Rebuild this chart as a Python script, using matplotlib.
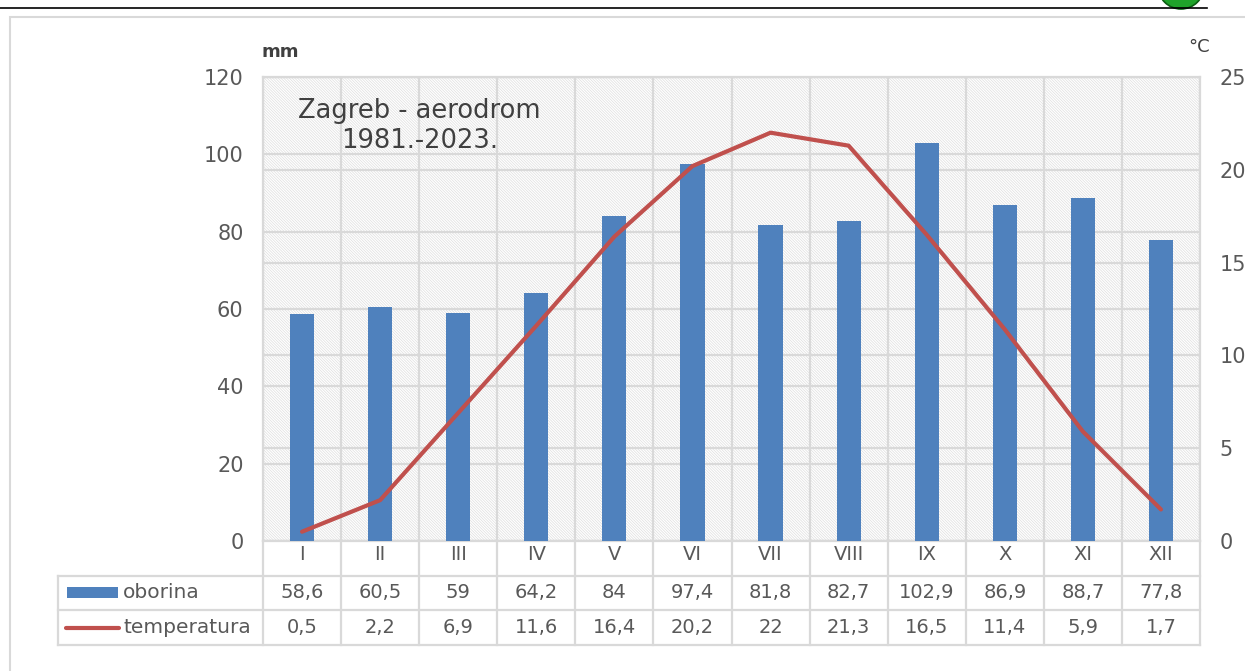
import numpy as np
import matplotlib.pyplot as plt
from matplotlib.patches import Rectangle, Ellipse
from matplotlib.lines import Line2D

# podaci
mjeseci = ['I', 'II', 'III', 'IV', 'V', 'VI', 'VII', 'VIII', 'IX', 'X', 'XI', 'XII']
oborina = [58.6, 60.5, 59, 64.2, 84, 97.4, 81.8, 82.7, 102.9, 86.9, 88.7, 77.8]
temperatura = [0.5, 2.2, 6.9, 11.6, 16.4, 20.2, 22, 21.3, 16.5, 11.4, 5.9, 1.7]
mm_ticks = [0, 20, 40, 60, 80, 100, 120]
c_ticks = [0, 5, 10, 15, 20, 25]

plt.rcParams['font.family'] = ['DejaVu Sans']
plt.rcParams['hatch.linewidth'] = 0.5

TXT = '#595959'
GRID = '#d9d9d9'
BLUE = '#4f81bd'
RED = '#c0504d'

W, H = 1245, 671
fig = plt.figure(figsize=(W / 100, H / 100), dpi=100)

def fx(px):
    return px / W

def fy(py):
    return 1 - py / H

# okvir i gornja linija
fig.add_artist(Line2D([0, fx(1207)], [fy(8), fy(8)], color='black', lw=1.2))
fig.add_artist(Rectangle((fx(10), fy(690)), fx(1300), 673 / H, transform=fig.transFigure,
                         fill=False, edgecolor=GRID, lw=1.5))
fig.add_artist(Ellipse((fx(1181), fy(-14)), fx(46), 46 / H, transform=fig.transFigure,
                       facecolor='#1fa32a', edgecolor='#0b5d12', lw=1.2))

x = np.arange(len(mjeseci))
rect = [fx(263), fy(541), fx(1200 - 263), (541 - 77) / H]

# pozadina s rešetkom za °C
axg = fig.add_axes(rect)
axg.set_xlim(-0.5, 11.5)
axg.set_ylim(0, 25)
axg.add_patch(Rectangle((0, 0), 1, 1, transform=axg.transAxes, facecolor='white',
                        edgecolor='#dedede', hatch='\\' * 12, lw=0, zorder=0))
axg.set_yticks(c_ticks)
axg.set_xticks(np.arange(-0.5, 12, 1))
axg.grid(True, color=GRID, lw=1.6, zorder=1)
axg.tick_params(length=0, labelleft=False, labelbottom=False)
for s in axg.spines.values():
    s.set_color(GRID)
    s.set_linewidth(1.6)

# stupci - oborina
ax = fig.add_axes(rect, sharex=axg)
ax.patch.set_visible(False)
ax.bar(x, oborina, width=0.31, color=BLUE, zorder=3)
ax.set_ylim(0, 120)
ax.set_yticks(mm_ticks)
ax.yaxis.grid(True, color=GRID, lw=1.6, zorder=1)
ax.set_axisbelow(True)
ax.tick_params(axis='y', length=0, pad=14, labelsize=15, labelcolor=TXT)
ax.tick_params(axis='x', length=0, labelbottom=False)
for s in ax.spines.values():
    s.set_visible(False)
ax.text(-0.002, 1.053, 'mm', transform=ax.transAxes, ha='left', va='center',
        fontsize=13, color='#404040', fontweight='bold')
ax.text(1.5, 107.3, 'Zagreb - aerodrom\n1981.-2023.', ha='center', va='center',
        fontsize=18.5, color='#404040', linespacing=1.2)

# linija - temperatura
ax2 = ax.twinx()
ax2.plot(x, temperatura, color=RED, lw=3, solid_capstyle='round', zorder=4)
ax2.set_ylim(0, 25)
ax2.set_yticks(c_ticks)
ax2.tick_params(axis='y', length=0, pad=14, labelsize=15, labelcolor=TXT)
for s in ax2.spines.values():
    s.set_visible(False)
ax2.text(0.9995, 1.065, '°C', transform=ax2.transAxes, ha='center', va='center',
         fontsize=13, color='#404040')

# tablica s podacima
axt = fig.add_axes([fx(58), fy(645), fx(1200 - 58), (645 - 541) / H])
x0 = -0.5 - (263 - 58) / (937 / 12)
axt.set_xlim(x0, 11.5)
axt.set_ylim(0, 3)
axt.axis('off')
for yy in [0, 1, 2]:
    axt.plot([x0, 11.5], [yy, yy], color=GRID, lw=1.6, clip_on=False)
for xx in np.arange(-0.5, 12, 1):
    axt.plot([xx, xx], [0, 3], color=GRID, lw=1.6, clip_on=False)
axt.plot([x0, x0], [0, 2], color=GRID, lw=1.6, clip_on=False)

for i, m in enumerate(mjeseci):
    axt.text(i, 2.6, m, ha='center', va='center', fontsize=14, color=TXT)
    axt.text(i, 1.5, f'{oborina[i]:g}'.replace('.', ','), ha='center', va='center',
             fontsize=14, color=TXT)
    axt.text(i, 0.5, f'{temperatura[i]:g}'.replace('.', ','), ha='center', va='center',
             fontsize=14, color=TXT)

px_u = 937 / 12
def tx(px):
    return x0 + (px - 58) / px_u

axt.add_patch(Rectangle((tx(67), 1.36), tx(118) - tx(67), 0.3, facecolor=BLUE, lw=0))
axt.plot([tx(66), tx(119)], [0.5, 0.5], color=RED, lw=3, solid_capstyle='round')
axt.text(tx(123), 1.5, 'oborina', ha='left', va='center', fontsize=14.5, color=TXT)
axt.text(tx(123), 0.5, 'temperatura', ha='left', va='center', fontsize=14.5, color=TXT)

fig.savefig('out.png', dpi=100)
